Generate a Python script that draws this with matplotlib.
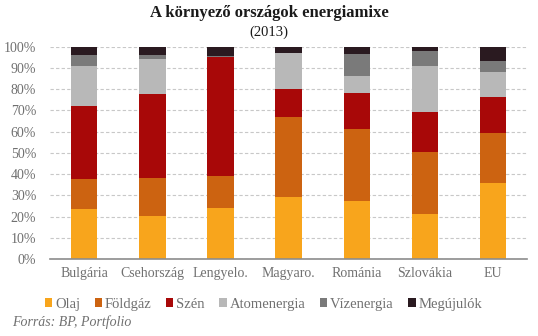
import matplotlib.pyplot as plt
import numpy as np
from matplotlib.ticker import PercentFormatter

# adatok
orszagok = ["Bulgária", "Csehország", "Lengyelo.", "Magyaro.", "Románia", "Szlovákia", "EU"]
olaj = [23.5, 20.3, 24.0, 29.2, 27.3, 21.2, 35.8]
foldgaz = [14.2, 17.8, 15.1, 37.7, 33.9, 29.2, 23.5]
szen = [34.4, 39.6, 56.0, 13.2, 17.0, 18.8, 17.0]
atom = [18.8, 16.5, 0.0, 16.9, 8.0, 21.7, 11.8]
viz = [5.2, 1.9, 0.5, 0.2, 10.3, 7.1, 5.1]
megujulo = [3.9, 3.9, 4.4, 2.8, 3.5, 2.0, 6.8]

nevek = ["Olaj", "Földgáz", "Szén", "Atomenergia", "Vízenergia", "Megújulók"]
szinek = ["#F8A51C", "#CC6311", "#A80808", "#B8B8B8", "#7A7A7A", "#2A1A20"]

plt.rcParams['font.family'] = ['Liberation Serif', 'DejaVu Serif']
szurke = "#707070"

fig = plt.figure(figsize=(5.38, 3.36), dpi=100)
ax = fig.add_axes([0.093, 0.229, 0.887, 0.632])

x = np.arange(len(orszagok))
also = np.zeros(len(orszagok))
for adat, nev, szin in zip([olaj, foldgaz, szen, atom, viz, megujulo], nevek, szinek):
    adat = np.array(adat) / 100.0
    ax.bar(x, adat, 0.39, bottom=also, color=szin, label=nev, zorder=3)
    also = also + adat

ax.set_xlim(-0.5, 6.5)
ax.set_ylim(0, 1)
ax.set_yticks(np.arange(0, 1.01, 0.1))
ax.yaxis.set_major_formatter(PercentFormatter(1.0, decimals=0))
ax.set_xticks(x)
ax.set_xticklabels(orszagok)
ax.tick_params(length=0, colors=szurke, labelsize=10)
ax.tick_params(axis='x', pad=6)
ax.tick_params(axis='y', pad=10)
ax.grid(axis='y', color="#C8C8C8", linestyle=(0, (3, 2)), linewidth=0.8, zorder=0)
for s in ["top", "right", "left"]:
    ax.spines[s].set_visible(False)
ax.spines["bottom"].set_color("#8C8C8C")
ax.spines["bottom"].set_linewidth(1.2)
ax.spines["bottom"].set_zorder(4)

fig.text(0.5, 0.962, "A környező országok energiamixe", ha='center', va='center',
         fontsize=12, fontweight='bold', color="#1A1A1A")
fig.text(0.5, 0.905, "(2013)", ha='center', va='center', fontsize=10.5, color="#1A1A1A")

leg = fig.legend(loc='center', bbox_to_anchor=(0.49, 0.095), ncol=6, frameon=False,
                 handlelength=0.5, handleheight=0.5, handletextpad=0.2, columnspacing=1.0,
                 fontsize=10.5, labelcolor=szurke)

fig.text(0.022, 0.04, "Forrás: BP, Portfolio", ha='left', va='center', fontsize=10,
         style='italic', color=szurke)

plt.savefig("out.png", dpi=100)
